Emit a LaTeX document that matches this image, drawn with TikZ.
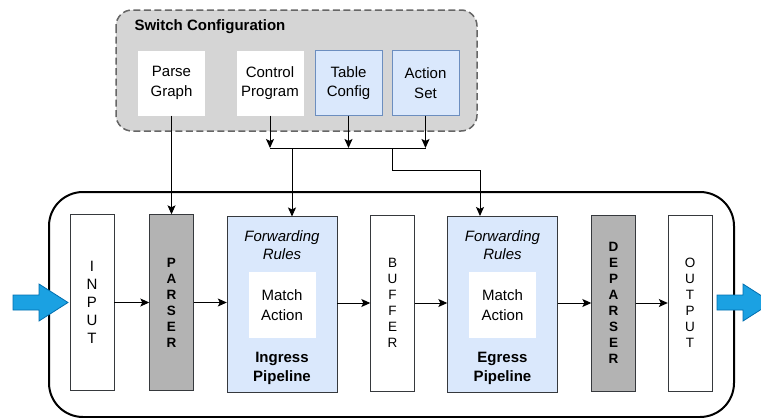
\documentclass[tikz,border=0pt]{standalone}
\usepackage{fontspec}
\setmainfont{Liberation Sans}
\usetikzlibrary{arrows.meta}

\definecolor{cfgfill}{HTML}{D5D5D5}
\definecolor{cfgline}{HTML}{666666}
\definecolor{bluefill}{HTML}{DAE8FC}
\definecolor{blueline}{HTML}{6C8EBF}
\definecolor{stageline}{HTML}{36393D}
\definecolor{darkstage}{HTML}{B3B3B3}
\definecolor{flowfill}{HTML}{1BA1E2}
\definecolor{flowline}{HTML}{006EAF}

\tikzset{
	lbl/.style={font=\fontsize{15}{19.5}\selectfont, align=center},
	cfgbox/.style={lbl, fill=white, minimum width=67, minimum height=65, inner sep=0},
	tblbox/.style={cfgbox, fill=bluefill, draw=blueline},
	stage/.style={draw=stageline, fill=white, minimum width=44, minimum height=176, inner sep=0, align=center,
		font=\fontsize{13.5}{16}\selectfont},
	darkbox/.style={stage, fill=darkstage, font=\fontsize{13.5}{16}\selectfont\bfseries},
	pipe/.style={draw=stageline, fill=bluefill, minimum width=110, minimum height=176, inner sep=0},
	arr/.style={-{Stealth[length=9pt,width=8pt,inset=2pt]}, line width=1pt},
	flow/.style={fill=flowfill, draw=flowline, line width=0.8pt}
}

\begin{document}
\begin{tikzpicture}[x=1pt,y=-1pt]
	\useasboundingbox (0,0) rectangle (761,418);
	\draw[fill=cfgfill, draw=cfgline, line width=1.5pt, dash pattern=on 7pt off 3.5pt, rounded corners=16]
		(116,10) rectangle (477,131);
	\node[lbl, font=\fontsize{15}{17}\selectfont\bfseries, anchor=west] (cfgtitle) at (131,27) {Switch Configuration};
	\node[cfgbox] (graph) at (171.5,83) {Parse\\Graph};
	\node[cfgbox] (prog) at (270,83) {Control\\Program};
	\node[tblbox] (table) at (348.5,83) {Table\\Config};
	\node[tblbox] (actions) at (425.5,83) {Action\\Set};

	\draw[line width=2pt, rounded corners=34] (49,192) rectangle (734,417);

	\node[stage, font=\fontsize{15}{18}\selectfont] (input) at (92,302.5) {I\\N\\P\\U\\T};
	\node[darkbox] (parser) at (171.5,302.5) {P\\A\\R\\S\\E\\R};
	\node[pipe] (ingress) at (282,304.5) {};
	\node[stage] (buffer) at (392.5,303) {B\\U\\F\\F\\E\\R};
	\node[pipe] (egress) at (502.5,304) {};
	\node[darkbox] (deparser) at (613.5,303) {D\\E\\P\\A\\R\\S\\E\\R};
	\node[stage] (output) at (690,303) {O\\U\\T\\P\\U\\T};

	\node[lbl, font=\fontsize{15}{18}\selectfont\itshape] (inrules) at (282,245) {Forwarding\\Rules};
	\node[cfgbox, minimum height=66] (inmatch) at (282,305) {Match\\Action};
	\node[lbl, font=\fontsize{15}{19}\selectfont\bfseries] (inname) at (282,368) {Ingress\\Pipeline};
	\node[lbl, font=\fontsize{15}{18}\selectfont\itshape] (egrules) at (502.5,245) {Forwarding\\Rules};
	\node[cfgbox, minimum height=66] (egmatch) at (502.5,305) {Match\\Action};
	\node[lbl, font=\fontsize{15}{19}\selectfont\bfseries] (egname) at (502.5,368) {Egress\\Pipeline};

	\draw[arr] (input.east) -- (parser.west);
	\draw[arr] (parser.east) -- (parser.east -| ingress.west);
	\draw[arr] (ingress.east |- buffer.west) -- (buffer.west);
	\draw[arr] (buffer.east) -- (buffer.east -| egress.west);
	\draw[arr] (egress.east |- deparser.west) -- (deparser.west);
	\draw[arr] (deparser.east) -- (output.west);

	\coordinate (busL) at (270,148);
	\coordinate (busR) at (425.5,148);
	\coordinate (split) at (392,148);
	\coordinate (bend) at (392,170);
	\coordinate (ingin) at (292,216.5);
	\coordinate (egin) at (480,216);
	\draw[arr] (graph.south) -- (parser.north);
	\draw[arr] (prog.south) -- (busL);
	\draw[arr] (table.south) -- (table.south |- busL);
	\draw[arr] (actions.south) -- (busR);
	\draw[line width=1pt] (busL) -- (busR);
	\draw[arr] (ingin |- busL) -- (ingin);
	\draw[arr] (split) -- (bend) -| (egin);

	\draw[flow] (13,295) -- (39,295) -- (39,284) -- (68,302.5) -- (39,321) -- (39,310) -- (13,310) -- cycle;
	\draw[flow] (717,295) -- (743,295) -- (743,284) -- (772,302.5) -- (743,321) -- (743,310) -- (717,310) -- cycle;
\end{tikzpicture}
\end{document}
